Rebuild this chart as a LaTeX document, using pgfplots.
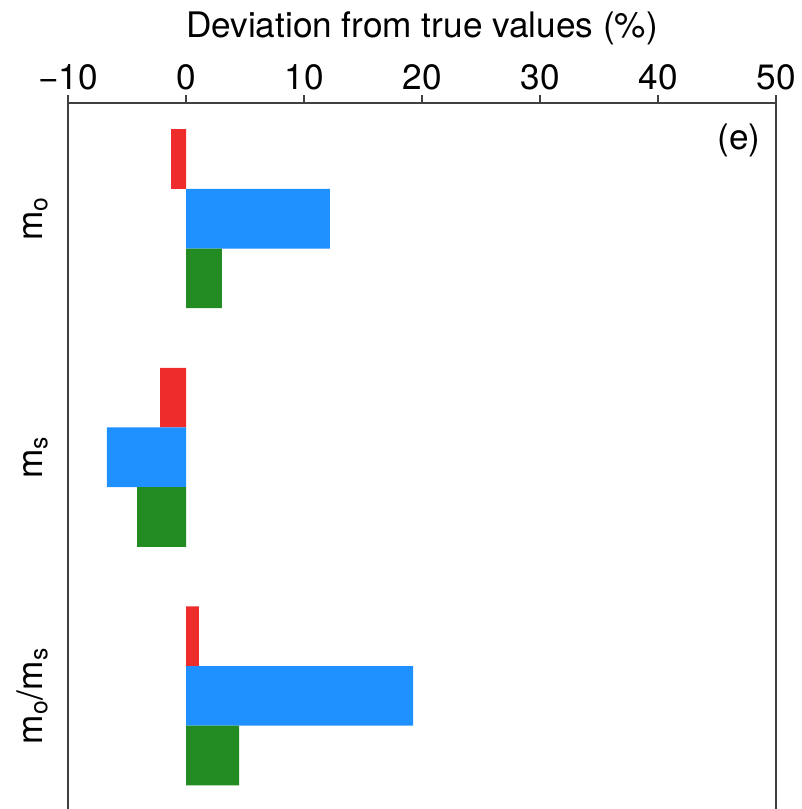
\documentclass[border=0pt]{standalone}
\usepackage{pgfplots}
\pgfplotsset{compat=1.18}
\usepackage{fontspec}
\setmainfont{TeX Gyre Heros}
\definecolor{cred}{RGB}{238,44,44}
\definecolor{cblue}{RGB}{30,144,255}
\definecolor{cgreen}{RGB}{34,139,34}
\begin{document}
\fontsize{17.6}{21}\selectfont
\begin{tikzpicture}
\path[use as bounding box] (-34pt,0) rectangle (367pt,404.5pt);
\begin{axis}[
  at={(0,0)}, anchor=south west,
  scale only axis, width=354pt, height=353pt,
  xmin=-10, xmax=50, ymin=0.526, ymax=3.485,
  axis x line*=top, axis y line*=box,
  axis line style={line width=0.6pt, black!75},
  xtick={-10,0,10,20,30,40,50},
  xticklabels={−10,0,10,20,30,40,50},
  xtick pos=right, xticklabel pos=right,
  tick align=outside,
  major tick length=4pt,
  xtick style={line width=0.6pt, black!75},
  ytick={1,2,3},
  yticklabels={m\textsubscript{o}/m\textsubscript{s}, m\textsubscript{s}, m\textsubscript{o}},
  ytick style={draw=none},
  yticklabel style={rotate=90, anchor=south, font=\fontsize{17.6}{21}\selectfont},
  xticklabel style={anchor=base, yshift=2.5pt, font=\fontsize{17.6}{21}\selectfont},
  xlabel={Deviation from true values (\%)},
  xlabel style={at={(rel axis cs:0.5,1)}, anchor=base, yshift=32.5pt, font=\fontsize{17.6}{21}\selectfont},
  bar width=0.25,
]
\addplot[xbar, fill=cred, draw=none, bar shift=0.25] coordinates {(-1.27,3) (-2.2,2) (1.1,1)};
\addplot[xbar, fill=cblue, draw=none, bar shift=0] coordinates {(12.2,3) (-6.7,2) (19.24,1)};
\addplot[xbar, fill=cgreen, draw=none, bar shift=-0.25] coordinates {(3.05,3) (-4.15,2) (4.5,1)};
\node[anchor=north east, inner sep=0pt, xshift=-7.5pt, yshift=-10pt] at (rel axis cs:1,1) {(e)};
\end{axis}
\end{tikzpicture}
\end{document}
